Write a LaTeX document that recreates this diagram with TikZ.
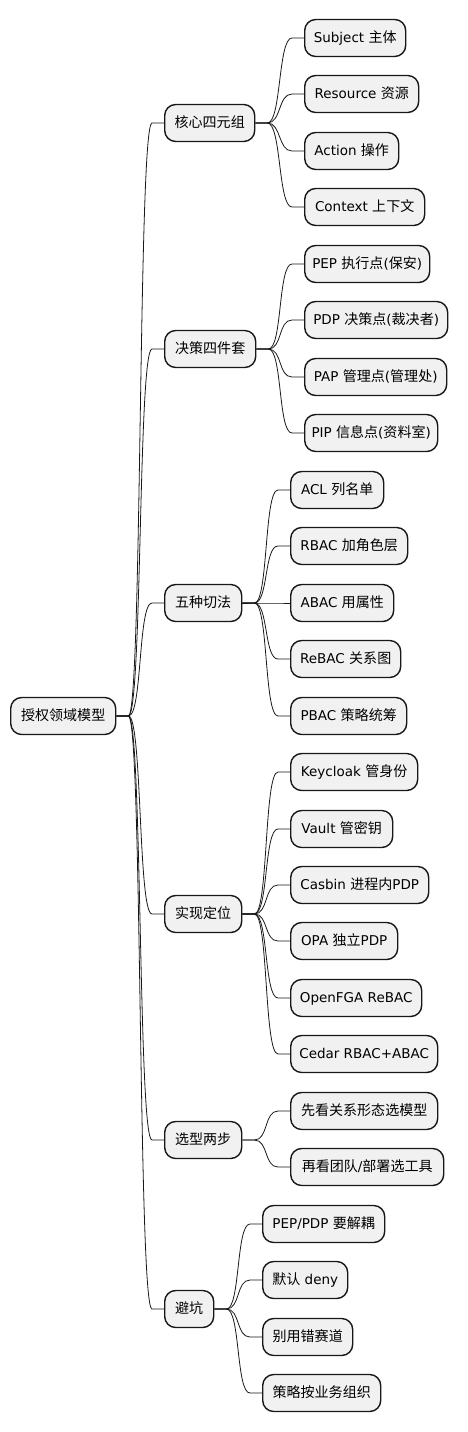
\documentclass[tikz,border=0pt]{standalone}
\usepackage{fontspec}
\setmainfont{DejaVu Sans}
\newfontfamily\cjkfont[Scale=1.04]{Noto Sans CJK SC}
\newcommand\zh[1]{{\cjkfont #1}}
\definecolor{boxfill}{HTML}{F1F1F1}
\definecolor{boxline}{HTML}{181818}
\tikzset{
  mm/.style={draw=boxline, line width=1.4pt, fill=boxfill, rounded corners=11pt,
    minimum height=37pt, inner sep=0pt, anchor=west, align=center,
    font=\fontsize{13.5}{15}\selectfont, text height=11pt, text depth=3pt},
  link/.style={draw=boxline, line width=0.8pt}
}
\newcommand\mmnode[5]{\node[mm, minimum width=#4pt] (#1) at (#3,#5) {#2};}
\newcommand\conn[2]{\draw[link] (#1.east) -- ++(12,0) .. controls +(14,0) and +(-14,0) .. ([xshift=-12pt]#2.west) -- (#2.west);}
\begin{document}
\begin{tikzpicture}[x=1pt,y=-1pt]
\useasboundingbox (0,0) rectangle (467,1432);
\mmnode{root}{\zh{授权领域模型}}{10}{105}{716}
\mmnode{k1}{\zh{核心四元组}}{164}{90}{123}
\mmnode{k2}{\zh{决策四件套}}{164}{91}{349}
\mmnode{k3}{\zh{五种切法}}{164}{77}{603}
\mmnode{k4}{\zh{实现定位}}{164}{77}{914}
\mmnode{k5}{\zh{选型两步}}{164}{77}{1140}
\mmnode{k6}{\zh{避坑}}{164}{49}{1309}
%
\mmnode{a1}{Subject \zh{主体}}{304}{101}{38}
\mmnode{a2}{Resource \zh{资源}}{304}{114}{94}
\mmnode{a3}{Action \zh{操作}}{304}{94}{151}
\mmnode{a4}{Context \zh{上下文}}{304}{120}{207}
\mmnode{b1}{PEP \zh{执行点}(\zh{保安})}{304}{125}{264}
\mmnode{b2}{PDP \zh{决策点}(\zh{裁决者})}{304}{143}{320}
\mmnode{b3}{PAP \zh{管理点}(\zh{管理处})}{304}{142}{377}
\mmnode{b4}{PIP \zh{信息点}(\zh{资料室})}{304}{133}{433}
\mmnode{c1}{ACL \zh{列名单}}{290}{93}{490}
\mmnode{c2}{RBAC \zh{加角色层}}{290}{117}{546}
\mmnode{c3}{ABAC \zh{用属性}}{290}{103}{603}
\mmnode{c4}{ReBAC \zh{关系图}}{290}{110}{659}
\mmnode{c5}{PBAC \zh{策略统筹}}{290}{116}{716}
\mmnode{d1}{Keycloak \zh{管身份}}{290}{127}{772}
\mmnode{d2}{Vault \zh{管密钥}}{290}{102}{829}
\mmnode{d3}{Casbin \zh{进程内}PDP}{290}{138}{885}
\mmnode{d4}{OPA \zh{独立}PDP}{290}{107}{941}
\mmnode{d5}{OpenFGA ReBAC}{290}{131}{998}
\mmnode{d6}{Cedar RBAC+ABAC}{290}{147}{1054}
\mmnode{e1}{\zh{先看关系形态选模型}}{290}{147}{1111}
\mmnode{e2}{\zh{再看团队}/\zh{部署选工具}}{290}{153}{1167}
\mmnode{f1}{PEP/PDP \zh{要解耦}}{262}{122}{1224}
\mmnode{f2}{\zh{默认} deny}{262}{85}{1280}
\mmnode{f3}{\zh{别用错赛道}}{262}{90}{1337}
\mmnode{f4}{\zh{策略按业务组织}}{262}{118}{1393}
%
\foreach \k in {k1,k2,k3,k4,k5,k6} {\conn{root}{\k}}
\foreach \c in {a1,a2,a3,a4} {\conn{k1}{\c}}
\foreach \c in {b1,b2,b3,b4} {\conn{k2}{\c}}
\foreach \c in {c1,c2,c3,c4,c5} {\conn{k3}{\c}}
\foreach \c in {d1,d2,d3,d4,d5,d6} {\conn{k4}{\c}}
\foreach \c in {e1,e2} {\conn{k5}{\c}}
\foreach \c in {f1,f2,f3,f4} {\conn{k6}{\c}}
\end{tikzpicture}
\end{document}
